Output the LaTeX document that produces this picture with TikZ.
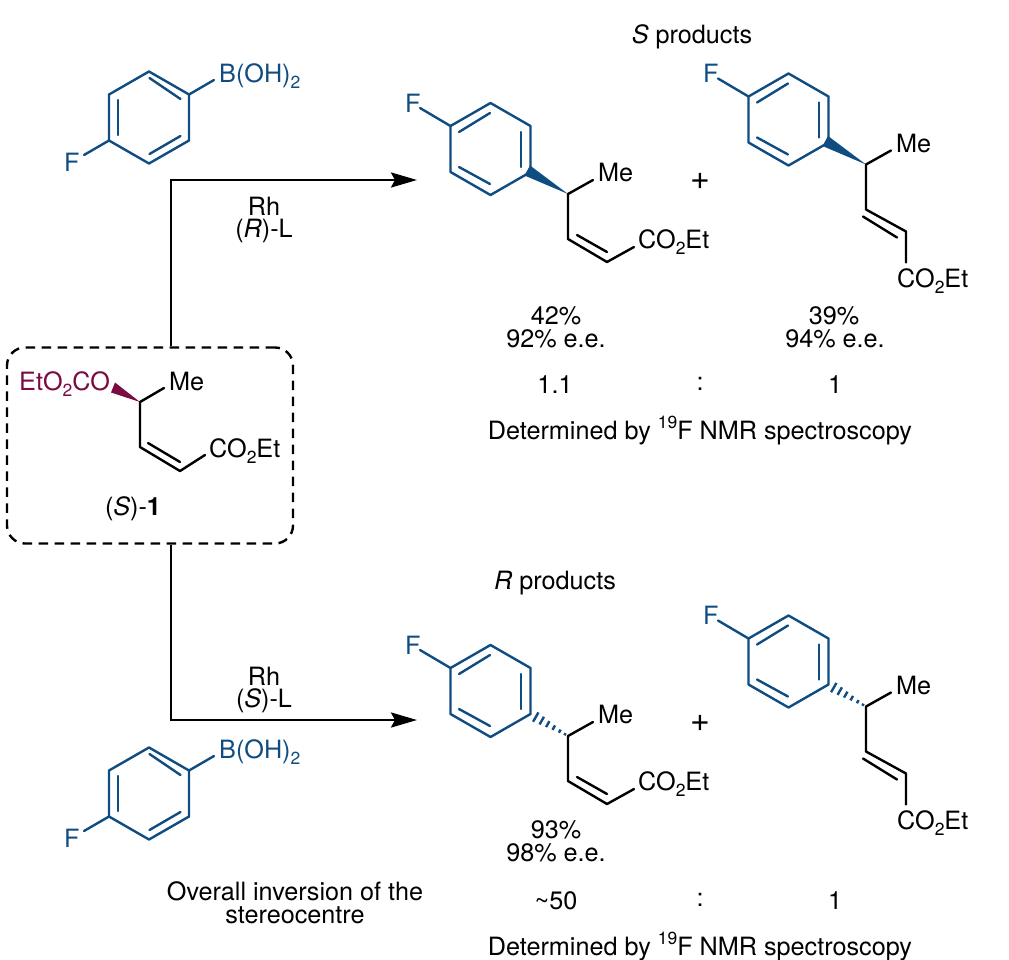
\documentclass[tikz,border=0pt]{standalone}
\usepackage{fontspec}
\setmainfont{TeX Gyre Heros}
\usetikzlibrary{arrows.meta}
\definecolor{molblue}{HTML}{0F4C81}
\definecolor{molred}{HTML}{7A0B43}
\newcommand{\subtwo}{\raisebox{-0.24em}{\fontsize{17.5}{17.5}\selectfont 2}}
\newcommand{\supnine}{\raisebox{0.42em}{\fontsize{17.5}{17.5}\selectfont 19}}
\tikzset{
  bond/.style={line width=2.4pt,line cap=round,line join=round},
  lab/.style={inner sep=0pt,font=\fontsize{25.2}{25.2}\selectfont,anchor=base},
  labw/.style={lab,anchor=base west},
  plus/.style={inner sep=0pt,font=\fontsize{34}{34}\selectfont},
  flow/.style={line width=2.6pt,-{Stealth[length=26pt,width=15pt,inset=4pt]}},
}
\newcommand{\RingVertices}[3]{%
  \coordinate (#1t) at (#2,#3-46);
  \coordinate (#1ur) at (#2+40,#3-23);
  \coordinate (#1lr) at (#2+40,#3+23);
  \coordinate (#1b) at (#2,#3+46);
  \coordinate (#1ll) at (#2-40,#3+23);
  \coordinate (#1ul) at (#2-40,#3-23);
  \draw[bond,molblue] (#1t)--(#1ur)--(#1lr)--(#1b)--(#1ll)--(#1ul)--cycle;
}
\newcommand{\ProductRing}[3]{%
  \RingVertices{#1}{#2}{#3}
  \draw[bond,molblue] (#2-31.5,#3-17)--(#2-.5,#3-36);
  \draw[bond,molblue] (#2+30.5,#3-17)--(#2+30.5,#3+18);
  \draw[bond,molblue] (#2-31.5,#3+18)--(#2-.5,#3+35);
  \node[labw,text=molblue] (#1F) at (#2-85.5,#3-37) {F};
  \coordinate (#1Fe) at (#2-70.5,#3-41);
  \draw[bond,molblue] (#1ul)--(#1Fe);
  \coordinate (#1C) at (#2+77.5,#3+45);
  \coordinate (#1Me) at (#2+102.5,#3+31);
  \draw[bond] (#1C)--(#1Me);
  \node[labw] (#1MeL) at (#2+107.5,#3+32.5) {Me};
}
\newcommand{\Wedge}[3]{%
  \fill[molblue] (#2+77.5,#3+45)--(#2+39.5,#3+16.5)--(#2+34,#3+26.5)--cycle;
}
\newcommand{\Hashed}[3]{%
  \foreach \t/\w in {.14/5.4,.30/4.4,.46/3.4,.62/2.6,.78/1.8,.92/1.2}{%
    \draw[line width=2.4pt,molblue] ({#2+40+\t*37.5-.5*\w},{#3+23+\t*22+.866*\w})--({#2+40+\t*37.5+.5*\w},{#3+23+\t*22-.866*\w});
  }%
}
\newcommand{\ZChain}[3]{%
  \coordinate (#1d1) at (#2+77.5,#3+90);
  \coordinate (#1d2) at (#2+116.5,#3+113);
  \coordinate (#1e) at (#2+143.5,#3+98);
  \draw[bond] (#1C)--(#1d1)--(#1d2)--(#1e);
  \draw[bond] (#2+86.5,#3+86)--(#2+116.5,#3+103);
  \node[labw] (#1Est) at (#2+147.5,#3+99.5) {CO\subtwo Et};
}
\newcommand{\EChain}[3]{%
  \coordinate (#1d1) at (#2+77.5,#3+90);
  \coordinate (#1d2) at (#2+117.5,#3+112);
  \coordinate (#1e) at (#2+117.5,#3+143);
  \draw[bond] (#1C)--(#1d1)--(#1d2)--(#1e);
  \draw[bond] (#2+74.5,#3+97)--(#2+108.5,#3+118);
  \node[labw] (#1Est) at (#2+108.5,#3+167.5) {CO\subtwo Et};
}
\newcommand{\Boronic}[3]{%
  \RingVertices{#1}{#2}{#3}
  \draw[bond,molblue] (#2+.5,#3-39.5)--(#2+31.5,#3-18.5);
  \draw[bond,molblue] (#2-31,#3-17.5)--(#2-31,#3+17.5);
  \draw[bond,molblue] (#2+.5,#3+36.5)--(#2+31.5,#3+18.5);
  \coordinate (#1Be) at (#2+65,#3-37.5);
  \coordinate (#1Fe) at (#2-65,#3+37.5);
  \draw[bond,molblue] (#1ur)--(#1Be);
  \draw[bond,molblue] (#1ll)--(#1Fe);
  \node[labw,text=molblue] (#1B) at (#2+70,#3-35) {B(OH)\subtwo};
  \node[labw,text=molblue] (#1F) at (#2-85,#3+53.5) {F};
}
\begin{document}
\begin{tikzpicture}[x=1pt,y=-1pt]
\useasboundingbox (0,0) rectangle (1009,959);
\node[draw,line width=2.4pt,dash pattern=on 9.5pt off 6.5pt,rounded corners=18pt,minimum width=286pt,minimum height=196pt,inner sep=0pt] (box) at (150,445.5) {};
\coordinate (sC) at (140,402);
\coordinate (sMe) at (164,388);
\coordinate (sd1) at (140,447);
\coordinate (sd2) at (180,471);
\coordinate (se) at (205,455);
\fill[molred] (sC)--(115,382.5)--(111,392.5)--cycle;
\draw[bond] (sMe)--(sC)--(sd1)--(sd2)--(se);
\draw[bond] (148,443)--(180,462);
\node[labw,text=molred] (sO) at (19,390) {EtO\subtwo CO};
\node[labw] (sMeL) at (169,390) {Me};
\node[labw] (sEst) at (209,457.5) {CO\subtwo Et};
\node[lab] (sName) at (133,515) {(\textit{S})-\textbf{1}};
\coordinate (topCorner) at (171,180);
\coordinate (topEnd) at (417,180);
\coordinate (botCorner) at (171,720);
\coordinate (botEnd) at (417,720);
\draw[flow] (box.north -| topCorner)--(topCorner)--(topEnd);
\draw[flow] (box.south -| botCorner)--(botCorner)--(botEnd);
\node[lab] (rhA) at (264,215) {Rh};
\node[lab] (lA) at (264,237) {(\textit{R})-L};
\node[lab] (rhB) at (264,685) {Rh};
\node[lab] (lB) at (264,707) {(\textit{S})-L};
\Boronic{ba}{149}{117.5}
\Boronic{bb}{149}{793.5}
\node[lab] (sTitle) at (692,43) {\textit{S} products};
\ProductRing{pa}{490.5}{149}
\Wedge{pa}{490.5}{149}
\ZChain{pa}{490.5}{149}
\node[plus] (plusA) at (700,181) {+};
\ProductRing{pb}{788.5}{119.5}
\Wedge{pb}{788.5}{119.5}
\EChain{pb}{788.5}{119.5}
\node[lab] (yA1) at (556,324) {42\%};
\node[lab] (eA1) at (556,347) {92\% e.e.};
\node[lab] (yA2) at (834,324) {39\%};
\node[lab] (eA2) at (835,347) {94\% e.e.};
\node[lab] (rA1) at (555,393) {1.1};
\node[lab] (rAc) at (700,390) {:};
\node[lab] (rA2) at (835,393) {1};
\node[lab] (detA) at (700,439.5) {Determined by \supnine F NMR spectroscopy};
\node[lab] (rTitle) at (555,589) {\textit{R} products};
\ProductRing{pc}{490.5}{691}
\Hashed{pc}{490.5}{691}
\ZChain{pc}{490.5}{691}
\node[plus] (plusB) at (700,723) {+};
\ProductRing{pd}{788.5}{661.5}
\Hashed{pd}{788.5}{661.5}
\EChain{pd}{788.5}{661.5}
\node[lab] (yB) at (556,838) {93\%};
\node[lab] (eB) at (556,861) {98\% e.e.};
\node[lab] (rB1) at (556,909) {\textasciitilde 50};
\node[lab] (rBc) at (700,906) {:};
\node[lab] (rB2) at (835,909) {1};
\node[lab] (over1) at (295,900) {Overall inversion of the};
\node[lab] (over2) at (295,923) {stereocentre};
\node[lab] (detB) at (700,955.5) {Determined by \supnine F NMR spectroscopy};
\end{tikzpicture}
\end{document}
